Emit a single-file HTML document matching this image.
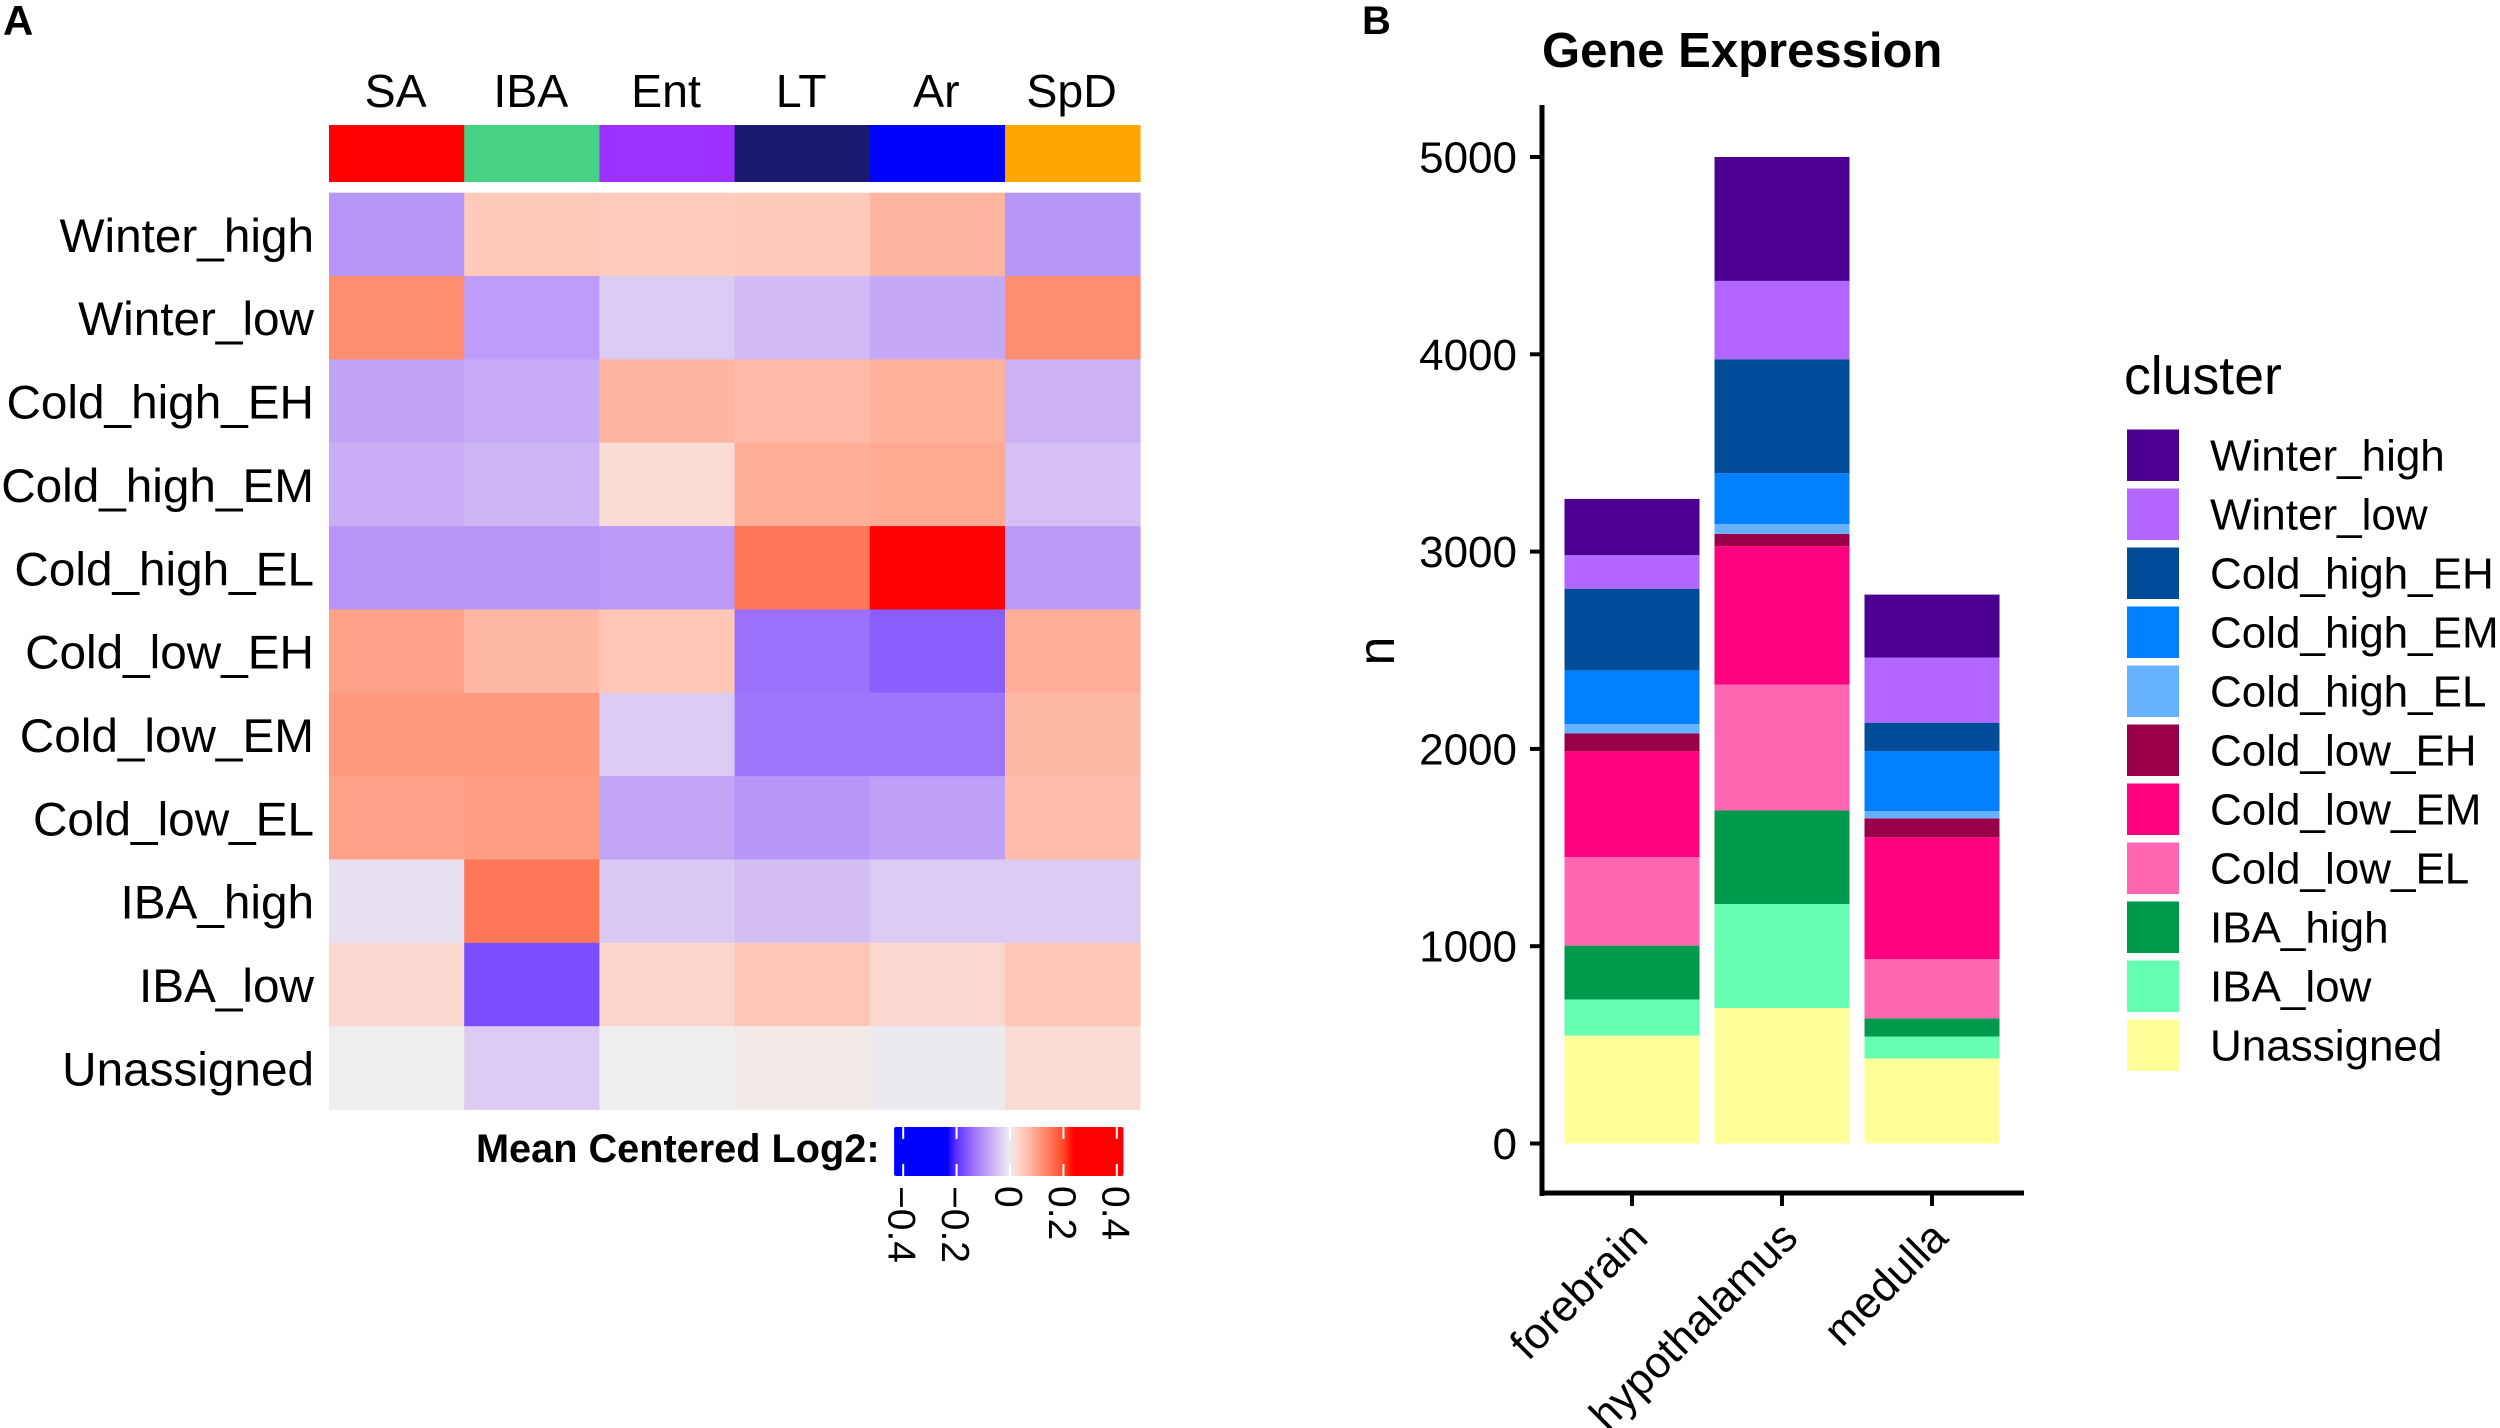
<!DOCTYPE html>
<html lang="en">
<head>
<meta charset="utf-8">
<title>Mean Centered Log2 heatmap and Gene Expression stacked bars</title>
<style>
html,body{margin:0;padding:0;background:#fff;width:2500px;height:1428px;overflow:hidden}
svg{display:block}
text{font-family:"Liberation Sans",Arial,sans-serif;fill:#000}
</style>
</head>
<body>
<svg id="figure" xmlns="http://www.w3.org/2000/svg" width="2500" height="1428" viewBox="0 0 2500 1428">
  <rect width="2500" height="1428" fill="#ffffff"/>
  <text x="3" y="35" font-size="42" font-weight="700">A</text>
  <text x="1362" y="34" font-size="40" font-weight="700">B</text>
  <text x="1542" y="67" font-size="49" font-weight="700">Gene Expression</text>
  <text transform="translate(1394,651) rotate(-90)" font-size="52" text-anchor="middle">n</text>
  <text x="2124" y="394" font-size="53.6">cluster</text>
  <text x="476" y="1162" font-size="39.7" font-weight="700">Mean Centered Log2:</text>
  <defs id="defs"></defs>
  <g id="annotation"></g>
  <g id="heatmap"></g>
  <g id="colorbar"></g>
  <g id="bars"></g>
  <g id="axes"></g>
  <g id="legend"></g>
</svg>
<script>
// ---- heatmap data ----
const heatColumns = ['SA','IBA','Ent','LT','Ar','SpD'];
const annotationColors = ['#ff0000','#47d184','#9b30ff','#191970','#0000ff','#ffa500'];
const heatRows = ['Winter_high','Winter_low','Cold_high_EH','Cold_high_EM','Cold_high_EL','Cold_low_EH','Cold_low_EM','Cold_low_EL','IBA_high','IBA_low','Unassigned'];
const heatValues = [
  [-0.095, 0.050, 0.044, 0.048, 0.076,-0.095],
  [ 0.125,-0.088,-0.037,-0.055,-0.075, 0.126],
  [-0.080,-0.072, 0.076, 0.068, 0.080,-0.064],
  [-0.069,-0.062, 0.024, 0.084, 0.088,-0.049],
  [-0.095,-0.095,-0.090, 0.152, 0.230,-0.090],
  [ 0.100, 0.072, 0.054,-0.135,-0.155, 0.084],
  [ 0.110, 0.110,-0.037,-0.130,-0.130, 0.072],
  [ 0.100, 0.106,-0.078,-0.095,-0.085, 0.066],
  [-0.015, 0.152,-0.039,-0.051,-0.037,-0.037],
  [ 0.030,-0.172, 0.034, 0.054, 0.030, 0.054],
  [ 0.000,-0.037, 0.000, 0.006,-0.005, 0.026]
];
const colorbarTicks = [-0.4,-0.2,0,0.2,0.4];
const colorbarLabels = ['\u22120.4','\u22120.2','0','0.2','0.4'];

// ---- bar chart data ----
const regions = ['forebrain','hypothalamus','medulla'];
const clusters = ['Winter_high','Winter_low','Cold_high_EH','Cold_high_EM','Cold_high_EL','Cold_low_EH','Cold_low_EM','Cold_low_EL','IBA_high','IBA_low','Unassigned'];
const clusterColors = ['#4b0092','#b266ff','#004c99','#0080ff','#66b2ff','#990049','#ff007f','#ff66b2','#009a4d','#66ffb2','#ffff99'];
const forebrainCounts = [285,170,414,272,48,89,537,449,273,183,547];
const hypothalamusCounts = [628,397,577,258,50,62,702,638,474,527,687];
const medullaCounts = [319,330,144,304,37,95,618,301,92,111,431];
const yTicks = [0,1000,2000,3000,4000,5000];

const NS = 'http://www.w3.org/2000/svg';
function mk(parent, tag, attrs, txt) {
  const e = document.createElementNS(NS, tag);
  for (const k in attrs) e.setAttribute(k, attrs[k]);
  if (txt !== undefined) e.textContent = txt;
  parent.appendChild(e);
  return e;
}
function slug(s) { return String(s).toLowerCase().replace(/[^a-z0-9]+/g, '-'); }

// ---- colour scale (Lab interpolation blue / grey / red) ----
function s2l(c){c/=255;return c<=0.04045?c/12.92:Math.pow((c+0.055)/1.055,2.4);}
function l2s(c){c=c<=0.0031308?12.92*c:1.055*Math.pow(c,1/2.4)-0.055;return Math.round(Math.max(0,Math.min(1,c))*255);}
function rgb2lab(r,g,b){
  const R=s2l(r),G=s2l(g),B=s2l(b);
  const f=t=>t>0.008856?Math.cbrt(t):7.787*t+16/116;
  const x=f((0.4124*R+0.3576*G+0.1805*B)/0.95047),y=f(0.2126*R+0.7152*G+0.0722*B),z=f((0.0193*R+0.1192*G+0.9505*B)/1.08883);
  return [116*y-16,500*(x-y),200*(y-z)];
}
function lab2rgb(L,a,b){
  const fy=(L+16)/116,fx=fy+a/500,fz=fy-b/200;
  const g=t=>{const c=t*t*t;return c>0.008856?c:(t-16/116)/7.787;};
  const X=g(fx)*0.95047,Y=g(fy),Z=g(fz)*1.08883;
  return 'rgb('+l2s(3.2406*X-1.5372*Y-0.4986*Z)+','+l2s(-0.9689*X+1.8758*Y+0.0415*Z)+','+l2s(0.0557*X-0.204*Y+1.057*Z)+')';
}
const labBlue=rgb2lab(0,0,255),labMid=rgb2lab(238,238,238),labRed=rgb2lab(255,0,0);
const colorLimit=0.23;
function colorOf(v){
  const t=Math.min(1,Math.abs(v)/colorLimit),end=v<0?labBlue:labRed;
  return lab2rgb(labMid[0]+(end[0]-labMid[0])*t,labMid[1]+(end[1]-labMid[1])*t,labMid[2]+(end[2]-labMid[2])*t);
}

// ---- heatmap ----
const heatLeft=329,colW=135.2,heatTop=192.7,rowH=83.35;
function colX(i){return heatLeft+colW*i;}
function rowY(i){return heatTop+rowH*i;}
const annG=document.getElementById('annotation'),heatG=document.getElementById('heatmap');
heatColumns.forEach(function(name,i){
  const lab=mk(annG,'text',{x:colX(i)+colW/2-1,y:107,'font-size':46.5,'text-anchor':'middle'},name);
  
  
  const sw=mk(annG,'rect',{x:colX(i),y:125,width:colW+0.4,height:57,fill:annotationColors[i]});
  
  
});
heatRows.forEach(function(name,r){
  const lab=mk(heatG,'text',{x:314,y:rowY(r)+rowH/2+17.5,'font-size':47.7,'text-anchor':'end'},name);
  
  
  heatValues[r].forEach(function(v,c){
    const cell=mk(heatG,'rect',{x:colX(c),y:rowY(r),width:colW+0.4,height:rowH+0.4,fill:colorOf(v)});
    
    
  });
});

// ---- colorbar ----
const cbCenter=1010,cbPerUnit=267,cbLo=-0.434,cbHi=0.425,cbTop=1127,cbBottom=1176;
function cbX(v){return cbCenter+cbPerUnit*v;}
const grad=mk(document.getElementById('defs'),'linearGradient',{id:'cbGrad',x1:0,x2:1,y1:0,y2:0});
for(let i=0;i<=60;i++){
  const f=i/60;
  mk(grad,'stop',{offset:f,'stop-color':colorOf(cbLo+(cbHi-cbLo)*f)});
}
const cbG=document.getElementById('colorbar');
const cbRect=mk(cbG,'rect',{x:cbX(cbLo),y:cbTop,width:cbX(cbHi)-cbX(cbLo),height:cbBottom-cbTop,rx:2,fill:'url(#cbGrad)'});


colorbarTicks.forEach(function(v,i){
  const x=cbX(v);
  const t1=mk(cbG,'line',{x1:x,x2:x,y1:cbTop,y2:cbTop+12,stroke:'#fff','stroke-width':2});
  
  
  const t2=mk(cbG,'line',{x1:x,x2:x,y1:cbBottom-12,y2:cbBottom,stroke:'#fff','stroke-width':2});
  
  
  const lab=mk(cbG,'text',{transform:'translate('+(x-14.5)+',1186) rotate(90)','font-size':39},colorbarLabels[i]);
  
  
});

// ---- bar chart ----
const yZero=1143.5,yPerUnit=0.1973,barStep=150,barFirstCenter=1632,barWidth=135;
function yScale(v){return yZero-v*yPerUnit;}
function xCenter(i){return barFirstCenter+barStep*i;}
const countsByRegion=[forebrainCounts,hypothalamusCounts,medullaCounts];
const barsG=document.getElementById('bars');
regions.forEach(function(region,i){
  let cum=0;
  for(let k=clusters.length-1;k>=0;k--){
    const v=countsByRegion[i][k];
    const seg=mk(barsG,'rect',{x:xCenter(i)-barWidth/2,y:yScale(cum+v),width:barWidth,height:yScale(cum)-yScale(cum+v),fill:clusterColors[k]});
    
    
    cum+=v;
  }
});

const axG=document.getElementById('axes');
const yAxis=mk(axG,'line',{x1:1542,x2:1542,y1:105,y2:1196,stroke:'#000','stroke-width':5});


const xAxis=mk(axG,'line',{x1:1539.5,x2:2024,y1:1193,y2:1193,stroke:'#000','stroke-width':5});


yTicks.forEach(function(v){
  const y=yScale(v);
  const t=mk(axG,'line',{x1:1530,x2:1542,y1:y,y2:y,stroke:'#000','stroke-width':4});
  
  
  const lab=mk(axG,'text',{x:1517,y:y+15.5,'font-size':44,'text-anchor':'end'},String(v));
  
  
});
regions.forEach(function(region,i){
  const x=xCenter(i);
  const t=mk(axG,'line',{x1:x,x2:x,y1:1193,y2:1206,stroke:'#000','stroke-width':4});
  
  
  const lab=mk(axG,'text',{transform:'translate('+(x+18)+',1240) rotate(-45)','font-size':43.7,'text-anchor':'end'},region);
  
  
});

// ---- legend ----
const legG=document.getElementById('legend');
clusters.forEach(function(name,i){
  const y=429.5+59*i;
  const sw=mk(legG,'rect',{x:2127,y:y,width:52,height:51.5,fill:clusterColors[i]});
  
  
  const lab=mk(legG,'text',{x:2210,y:y+41,'font-size':44},name);
  
  
});
</script>
</body>
</html>
